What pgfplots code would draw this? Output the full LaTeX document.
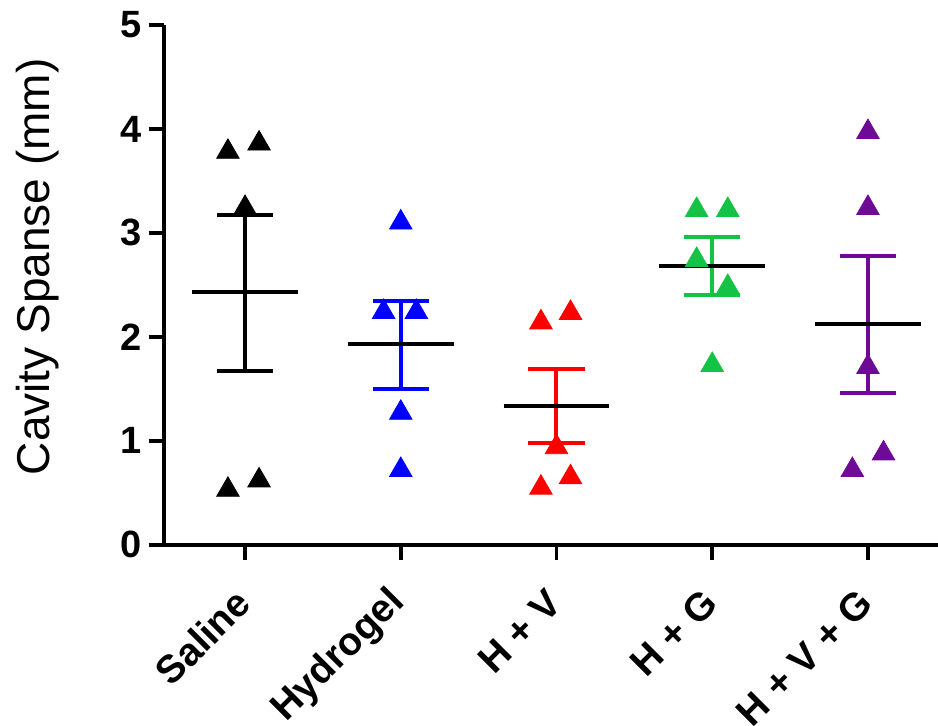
\documentclass[border=0pt]{standalone}
\usepackage{fontspec}
\setmainfont{Liberation Sans}
\usepackage{pgfplots}
\pgfplotsset{compat=1.18}
\definecolor{cgreen}{RGB}{20,195,70}
\definecolor{cpurple}{RGB}{110,10,150}
\definecolor{cblue}{RGB}{0,0,255}
\definecolor{cred}{RGB}{255,0,0}
\begin{document}
\begin{tikzpicture}
\begin{axis}[
  scale only axis, width=387pt, height=260pt,
  xmin=-0.52, xmax=4.45, ymin=0, ymax=5,
  axis x line*=bottom, axis y line*=left,
  xtick={0,1,2,3,4},
  xticklabels={Saline,Hydrogel,H + V,H + G,H + V + G},
  ytick={0,1,2,3,4,5},
  tick align=outside, major tick length=7.5pt,
  axis line style={line width=2pt},
  tick style={line width=1.8pt, black},
  x tick label style={rotate=45, anchor=east, inner sep=0pt, xshift=-13.4pt, yshift=-12.2pt, font=\fontsize{19.5}{22}\selectfont\bfseries},
  y tick label style={font=\fontsize{19}{22}\selectfont\bfseries},
  /pgf/number format/assume math mode=true,
  ylabel={Cavity Spanse (mm)},
  ylabel style={font=\fontsize{23}{26}\selectfont, at={(axis description cs:-0.163,0.535)}, anchor=center},
  clip=false,
  every axis plot/.append style={line width=2pt},
]
% points
\pgfplotsset{tri/.style={only marks, mark=triangle*, mark size=6.5pt, mark options={line width=0.4pt}}}
\addplot[tri, black] coordinates {(-0.11,3.78) (0.09,3.86) (0,3.24) (-0.11,0.53) (0.09,0.62)};
\addplot[tri, cblue] coordinates {(1,3.10) (0.89,2.24) (1.1,2.24) (1,1.27) (1,0.72)};
\addplot[tri, cred] coordinates {(1.9,2.14) (2.09,2.23) (1.9,0.55) (2.09,0.65) (2,0.94)};
\addplot[tri, cgreen] coordinates {(2.9,3.22) (3.1,3.22) (2.9,2.74) (3.1,2.48) (3,1.73)};
\addplot[tri, cpurple] coordinates {(4,3.97) (4,3.24) (4,1.71) (3.9,0.72) (4.1,0.88)};
% error bars (SEM)
\addplot[black] coordinates {(0,1.67) (0,3.17)};
\addplot[black] coordinates {(-0.18,3.17) (0.18,3.17)};
\addplot[black] coordinates {(-0.18,1.67) (0.18,1.67)};
\addplot[cblue] coordinates {(1,1.50) (1,2.35)};
\addplot[cblue] coordinates {(0.82,2.35) (1.18,2.35)};
\addplot[cblue] coordinates {(0.82,1.50) (1.18,1.50)};
\addplot[cred] coordinates {(2,0.98) (2,1.69)};
\addplot[cred] coordinates {(1.82,1.69) (2.18,1.69)};
\addplot[cred] coordinates {(1.82,0.98) (2.18,0.98)};
\addplot[cgreen] coordinates {(3,2.40) (3,2.96)};
\addplot[cgreen] coordinates {(2.82,2.96) (3.18,2.96)};
\addplot[cgreen] coordinates {(2.82,2.40) (3.18,2.40)};
\addplot[cpurple] coordinates {(4,1.46) (4,2.78)};
\addplot[cpurple] coordinates {(3.82,2.78) (4.18,2.78)};
\addplot[cpurple] coordinates {(3.82,1.46) (4.18,1.46)};
% means
\addplot[black] coordinates {(-0.34,2.43) (0.34,2.43)};
\addplot[black] coordinates {(0.66,1.93) (1.34,1.93)};
\addplot[black] coordinates {(1.66,1.34) (2.34,1.34)};
\addplot[black] coordinates {(2.66,2.68) (3.34,2.68)};
\addplot[black] coordinates {(3.66,2.12) (4.34,2.12)};
\coordinate (bl) at (rel axis cs:-0.212,-0.348);
\coordinate (tr) at (rel axis cs:1.0,1.048);
\end{axis}
\pgfresetboundingbox
\path (bl) rectangle (tr);
\end{tikzpicture}
\end{document}
